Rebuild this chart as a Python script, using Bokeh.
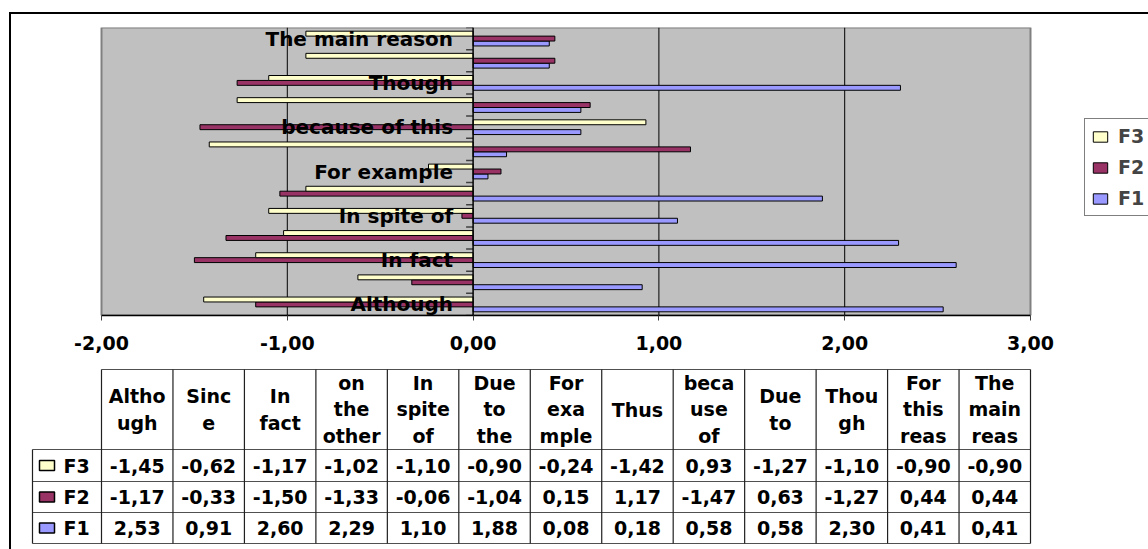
from bokeh.plotting import figure
from bokeh.layouts import column
from bokeh.models import ColumnDataSource, Range1d, FixedTicker, Span, Legend, LegendItem
from bokeh.transform import dodge
from bokeh.core.properties import value
from bokeh.embed import file_html
from bokeh.resources import INLINE

# ---- data -------------------------------------------------------------
categories = ["Although", "Since", "In fact", "on the other hand", "In spite of",
              "Due to the fact", "For example", "Thus", "because of this", "Due to",
              "Though", "For this reason", "The main reason"]
header_labels = ["Altho\nugh", "Sinc\ne", "In\nfact", "on\nthe\nother", "In\nspite\nof",
                 "Due\nto\nthe", "For\nexa\nmple", "Thus", "beca\nuse\nof", "Due\nto",
                 "Thou\ngh", "For\nthis\nreas", "The\nmain\nreas"]
series_names = ["F3", "F2", "F1"]
f3 = [-1.45, -0.62, -1.17, -1.02, -1.10, -0.90, -0.24, -1.42, 0.93, -1.27, -1.10, -0.90, -0.90]
f2 = [-1.17, -0.33, -1.50, -1.33, -0.06, -1.04, 0.15, 1.17, -1.47, 0.63, -1.27, 0.44, 0.44]
f1 = [2.53, 0.91, 2.60, 2.29, 1.10, 1.88, 0.08, 0.18, 0.58, 0.58, 2.30, 0.41, 0.41]
x_ticks = [-2, -1, 0, 1, 2, 3]

colors = {"F3": "#FFFFCC", "F2": "#993366", "F1": "#9999FF"}
values = {"F3": f3, "F2": f2, "F1": f1}

# ---- page geometry (pixels) ---------------------------------------------
PAGE_W, PAGE_H = 1148, 549
OX, OY = 11, 14                      # inside of the outer frame line
L, R, T, B = 101, 1030, 27, 315      # gray plot area on the page
SPLIT = 355                          # chart figure above, table figure below
X0, X1 = x_ticks[0], x_ticks[-1]
Y0, Y1 = -0.5, len(categories) - 0.5
FONT = value("DejaVu Sans")


def xd(px):
    """page x pixel -> chart x units"""
    return X0 + (px - L) * (X1 - X0) / (R - L)


def fmt(v):
    return f"{v:.2f}".replace(".", ",")


x_range = Range1d(xd(OX), xd(PAGE_W))

# ---- chart ----------------------------------------------------------------
wA, hA = PAGE_W - OX, SPLIT - OY
p = figure(width=wA, height=hA, x_range=x_range, y_range=Range1d(Y0, Y1),
           output_backend="svg", toolbar_location=None, y_axis_location=None,
           min_border_left=0, min_border_right=0, min_border_top=T - OY,
           min_border_bottom=SPLIT - B)
p.background_fill_color = "white"
p.border_fill_color = "white"
p.outline_line_color = None
p.grid.visible = False

# gray plot area and vertical grid lines
p.quad(left=[X0], right=[X1], bottom=[Y0], top=[Y1], fill_color="#C0C0C0",
       line_color="#808080", line_width=2)
inner = [t for t in x_ticks if t not in (X0, X1, 0)]
p.segment(x0=inner, x1=inner, y0=[Y0] * len(inner), y1=[Y1] * len(inner),
          line_color="black", line_width=1)

ax = p.xaxis[0]
ax.bounds = (X0, X1)
ax.ticker = FixedTicker(ticks=x_ticks)
ax.major_label_overrides = {t: fmt(t) for t in x_ticks}
ax.axis_line_color = "black"
ax.axis_line_width = 1.5
ax.major_tick_in = 0
ax.major_tick_out = 5
ax.major_tick_line_color = "#404040"
ax.minor_tick_line_color = None
ax.major_label_text_font = "DejaVu Sans"
ax.major_label_text_font_style = "bold"
ax.major_label_text_font_size = "19px"
ax.major_label_text_color = "black"
ax.major_label_standoff = 15

# category axis at x = 0
p.add_layout(Span(location=0, dimension="height", line_color="black", line_width=1.5))
bounds = [i - 0.5 for i in range(len(categories) + 1)]
tick_len = 7 * (X1 - X0) / (R - L)
p.segment(x0=[0] * len(bounds), x1=[-tick_len] * len(bounds), y0=bounds, y1=bounds,
          line_color="#404040", line_width=1.5)

# bars
src = ColumnDataSource(dict(y=list(range(len(categories))), F1=f1, F2=f2, F3=f3))
bar_h = 0.222
offsets = {"F3": bar_h, "F2": 0.0, "F1": -bar_h}
renderers = {}
for name in ["F1", "F2", "F3"]:
    renderers[name] = p.hbar(y=dodge("y", offsets[name], range=p.y_range), left=0, right=name,
                             height=bar_h, fill_color=colors[name], line_color="black",
                             line_width=1, source=src)

# category labels sit on top of the bars, just left of the zero line
shown = list(range(0, len(categories), 2))
p.text(x=[0] * len(shown), y=shown, text=[categories[i] for i in shown],
       x_offset=-20, text_align="right", text_baseline="middle",
       text_font=FONT, text_font_style="bold", text_font_size="20px", text_color="black")

legend = Legend(items=[LegendItem(label=n, renderers=[renderers[n]]) for n in series_names],
                location=(1084 - OX, B - 216), orientation="vertical", margin=0, padding=6,
                spacing=9, glyph_width=18, glyph_height=13, label_height=20, label_width=40,
                label_standoff=9, label_text_font="DejaVu Sans", label_text_font_style="bold",
                label_text_font_size="19px", border_line_color="black", border_line_width=1,
                background_fill_color="white", background_fill_alpha=1)
p.add_layout(legend)

# ---- data table -------------------------------------------------------------
wB, hB = PAGE_W - OX, PAGE_H - SPLIT
t = figure(width=wB, height=hB, x_range=x_range, y_range=Range1d(PAGE_H, SPLIT),
           output_backend="svg", toolbar_location=None,
           x_axis_location=None, y_axis_location=None, min_border=0)
t.outline_line_color = None
t.grid.visible = False
t.background_fill_color = "white"
t.border_fill_color = "white"

ncol = len(categories)
col_w = (X1 - X0) / ncol
xb = [X0 + i * col_w for i in range(ncol + 1)]
xc = [X0 + (i + 0.5) * col_w for i in range(ncol)]
head_top, head_bot = 369, 449
row_b = [449, 481, 512, 543]
lab_left = xd(32)

# horizontal rules
hx0 = [X0] + [lab_left] * len(row_b)
hx1 = [X1] * (1 + len(row_b))
hy = [head_top] + row_b
t.segment(x0=hx0, x1=hx1, y0=hy, y1=hy, line_color="#505050", line_width=1.2)
# vertical rules
vx = xb + [lab_left]
vy0 = [head_top] * len(xb) + [row_b[0]]
vy1 = [row_b[-1]] * len(vx)
t.segment(x0=vx, x1=vx, y0=vy0, y1=vy1, line_color="#202020", line_width=1.2)

text_kw = dict(text_font=FONT, text_font_style="bold", text_font_size="19px",
               text_color="black", text_baseline="middle")
t.text(x=xc, y=[(head_top + head_bot) / 2] * ncol, text=header_labels, text_align="center",
       text_line_height=1.2, **text_kw)

for k, name in enumerate(series_names):
    yc = (row_b[k] + row_b[k + 1]) / 2
    t.text(x=xc, y=[yc] * ncol, text=[fmt(v) for v in values[name]], text_align="center",
           **text_kw)
    t.text(x=[xd(63)], y=[yc], text=[name], text_align="left", **text_kw)
    t.quad(left=[xd(39)], right=[xd(54)], top=[yc - 5], bottom=[yc + 5],
           fill_color=colors[name], line_color="black", line_width=1.5)

page = column(p, t, spacing=0,
              styles={"margin-left": "9px", "margin-top": "12px",
                      "border-left": "2px solid black", "border-top": "2px solid black"})

open("out.html", "w").write(file_html(page, INLINE))
